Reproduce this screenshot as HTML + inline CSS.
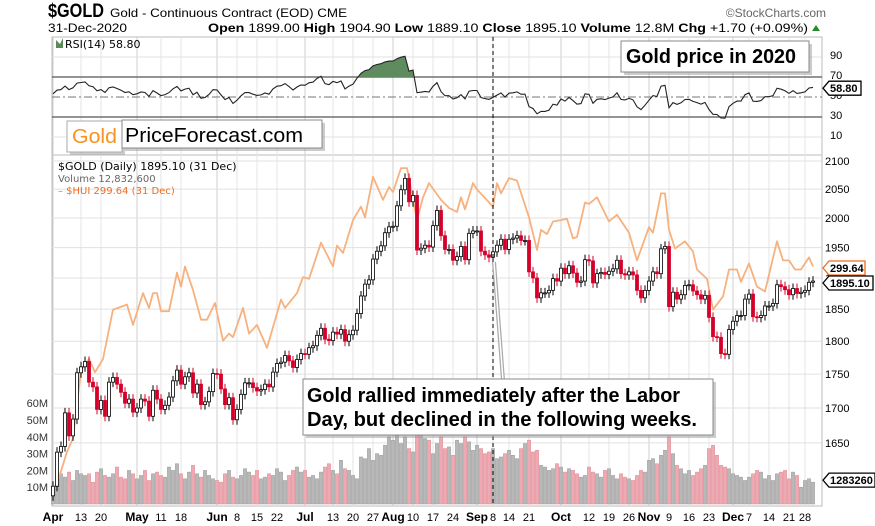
<!DOCTYPE html>
<html><head><meta charset="utf-8">
<style>
html,body{margin:0;padding:0;background:#fff;}
svg{display:block;font-family:"Liberation Sans",Arial,sans-serif;}
</style></head>
<body>
<svg id="chart" width="875" height="526" viewBox="0 0 875 526" xmlns="http://www.w3.org/2000/svg">
  <g id="grid"></g>
  <g id="vol"></g>
  <g id="hui"></g>
  <g id="candles"></g>
  <g id="rsi"></g>
  <g id="axes"></g>

  <!-- header -->
  <text x="48" y="17" font-size="19" font-weight="bold" textLength="56" lengthAdjust="spacingAndGlyphs">$GOLD</text>
  <text x="110" y="17" font-size="12" textLength="237" lengthAdjust="spacingAndGlyphs">Gold - Continuous Contract (EOD) CME</text>
  <text x="826" y="17" font-size="12" fill="#666" text-anchor="end">©StockCharts.com</text>
  <text x="48" y="32" font-size="12" textLength="79" lengthAdjust="spacingAndGlyphs">31-Dec-2020</text>
  <text x="208" y="32" font-size="12" textLength="600" lengthAdjust="spacingAndGlyphs"><tspan font-weight="bold">Open</tspan> 1899.00 <tspan font-weight="bold">High</tspan> 1904.90 <tspan font-weight="bold">Low</tspan> 1889.10 <tspan font-weight="bold">Close</tspan> 1895.10 <tspan font-weight="bold">Volume</tspan> 12.8M <tspan font-weight="bold">Chg</tspan> +1.70 (+0.09%)</text>
  <path d="M812 31 L820 31 L816 25 Z" fill="#2a8a2a"/>

  <!-- RSI legend -->
  <path d="M56 48 L56 40 L60 44 L63 38 L63 48 Z" fill="#5a8a5a"/>
  <text x="65" y="48" font-size="11" font-family="DejaVu Sans, sans-serif">RSI(14) 58.80</text>

  <!-- Gold price box -->
  <rect x="624" y="44" width="188" height="31" fill="#999" opacity="0.5"/>
  <rect x="621" y="41" width="188" height="31" fill="#fff" stroke="#888"/>
  <text x="626" y="63" font-size="20" font-weight="bold" textLength="170" lengthAdjust="spacingAndGlyphs">Gold price in 2020</text>

  <!-- PriceForecast logo -->
  <rect x="70" y="124" width="55" height="31" fill="#999" opacity="0.5"/>
  <rect x="67" y="121" width="55" height="31" fill="#fff" stroke="#aaa"/>
  <text x="72" y="143" font-size="20" fill="#f7931e" textLength="45" lengthAdjust="spacingAndGlyphs">Gold</text>
  <rect x="125" y="123" width="200" height="28" fill="#999" opacity="0.5"/>
  <rect x="122" y="120" width="200" height="28" fill="#fff" stroke="#888"/>
  <text x="125" y="142" font-size="20" textLength="178" lengthAdjust="spacingAndGlyphs">PriceForecast.com</text>

  <!-- price legend -->
  <text x="58" y="170" font-size="11" font-family="DejaVu Sans, sans-serif">$GOLD (Daily) 1895.10 (31 Dec)</text>
  <text x="58" y="182" font-size="10" fill="#666" font-family="DejaVu Sans, sans-serif">Volume 12,832,600</text>
  <text x="58" y="194" font-size="10" fill="#f26b1d" font-family="DejaVu Sans, sans-serif">– $HUI 299.64 (31 Dec)</text>

  <!-- annotation -->
  <g id="annot">
    <line x1="494" y1="262" x2="503" y2="380" stroke="#aaa" stroke-width="4"/>
    <line x1="494" y1="262" x2="503" y2="380" stroke="#fff" stroke-width="1.5"/>
    <rect x="306" y="382" width="410" height="56" fill="#999" opacity="0.5"/>
    <rect x="303" y="379" width="410" height="56" fill="#fff" stroke="#888"/>
    <text x="307" y="402" font-size="20" font-weight="bold" textLength="373" lengthAdjust="spacingAndGlyphs">Gold rallied immediately after the Labor</text>
    <text x="307" y="426" font-size="20" font-weight="bold" textLength="390" lengthAdjust="spacingAndGlyphs">Day, but declined in the following weeks.</text>
  </g>
</svg>
<script>
// ---- data ----
const closes = [
1590,1637,1645,1693,1660,1684,1752,1761,1769,1738,1731,1698,1711,1688,1738,1745,1735,1723,1707,1713,1694,
1700,1713,1710,1688,1726,1713,1698,1704,1716,1740,1756,1735,1746,1752,1722,1735,1705,1709,1724,1751,
1750,1728,1705,1715,1683,1698,1720,1737,1737,1730,1725,1727,1735,1731,1753,1766,1768,1778,1770,1760,1772,1781,
1780,1790,1793,1809,1820,1803,1801,1814,1811,1818,1800,1810,1817,1843,1871,1890,1897,1931,1944,1953,1975,1985,
1986,2021,2049,2069,2028,2039,1946,1949,1954,1951,1987,2013,1970,1947,1947,1929,1935,1952,1930,1974,1978,
1978,1944,1938,1934,1943,1954,1964,1947,1964,1966,1970,1962,1962,1910,1900,1868,1876,1876,1880,1899,1895,
1916,1907,1920,1908,1893,1895,1930,1928,1892,1907,1909,1906,1911,1915,1929,1907,1905,1910,1905,1880,1868,1880,
1895,1910,1907,1948,1952,1854,1877,1866,1873,1888,1889,1879,1873,1866,1872,1837,1807,1806,1781,1780,
1818,1831,1840,1840,1866,1874,1838,1837,1840,1855,1855,1859,1889,1886,1881,1873,1883,1875,1877,1880,1893,1895];
const firstOpen = 1577;
const volumes = [
5,12,18,16,19,14,20,18,17,18,13,19,21,17,16,18,22,16,15,20,18,
15,17,20,14,18,19,17,16,22,20,24,18,15,19,23,18,16,20,17,15,
14,13,18,20,16,15,17,21,19,17,20,15,16,18,17,21,19,14,17,20,22,19,
20,16,17,15,19,22,24,20,18,26,21,20,17,15,28,27,33,26,30,29,35,40,
38,41,36,40,33,31,42,44,39,38,30,36,40,33,34,29,38,36,40,37,32,
35,33,30,31,33,27,28,30,32,29,27,33,36,38,31,32,23,22,20,21,24,
22,19,21,20,18,16,17,22,19,18,16,20,21,17,15,18,16,15,14,17,20,19,
26,27,24,29,32,40,30,23,21,18,20,17,19,21,23,33,35,29,23,22,
21,18,17,16,14,16,18,20,19,15,17,14,18,19,20,15,19,17,10,14,15,13];
const huiDay = [0.75,3.5,5,7,9,10.5,12.5,15,18.5,20,22.5,24,25,26,27,29,31,32,33,35,37,38.5,40.5,42.5,44,45,47.5,49,51,53.5,57,58,61,62.5,64,67,70,71,72.5,75,77,78,80,82.5,84,85,87,88.5,91,92.5,94,97,99,101,102,103,105,106,110,111,112,114,116,119,121,122,123.5,125,127,128.5,130,131,133,134,136,139,141,144,146,149,150,152,153,154,155.5,158,160,161,163.5,165,167.5,169,171,172,174,176,178,181,182.5,184,185.5,187,189,190];
const huiVal = [185,200,206,239,245,238,245,273,276,264,283,274,283,283,272,272,296,287,300,285,267,267,277,255,259,257,274,259,264,251,279,274,283,293,292,316,300,314,309,332,342,334,365,347,357,353,372,372,332,349,360,347,341,338,349,340,360,355,342,360,352,364,362,334,311,325,322,331,332,333,319,320,345,344,349,331,336,323,304,327,323,352,352,325,312,317,310,298,292,273,281,298,298,290,302,287,284,317,304,304,298,298,306,300];
const priceTicks = [2100,2050,2000,1950,1900,1850,1800,1750,1700,1650];
const rsiTicks = [90,70,50,30,10];
const volTicks = [60,50,40,30,20,10];
const volTickLabels = ['60M','50M','40M','30M','20M','10M'];
const dateLabels = ['Apr','13','20','May','11','18','Jun','8','15','22','Jul','13','20','27','Aug','10','17','24','Sep','8','14','21','Oct','12','19','26','Nov','9','16','23','Dec','7','14','21','28'];
const dateIdx = [0,7,12,21,27,32,41,46,51,56,63,70,75,80,85,90,95,100,106,110,114,119,127,134,139,144,149,154,159,164,170,174,179,184,188];
const laborDayIdx = 110;

// ---- scales ----
const NS='http://www.w3.org/2000/svg';
const L=52, R=822, rsiTop=37, rsiBot=155, pTop=155, pBot=506;
const X = i => 53 + i*(760/(closes.length-1));
const YP = p => 161 + 1169*(Math.log(2100)-Math.log(p));
const YH = h => 267 - 457*Math.log(h/299.64);
const YV = v => 504 - v*1.68;
const YR = r => 97 - (r-50);
function mk(tag, attrs, parent){const e=document.createElementNS(NS,tag);for(const k in attrs)e.setAttribute(k,attrs[k]);parent.appendChild(e);return e;}
const g=id=>document.getElementById(id);

// ---- grid ----
const grid=g('grid');
mk('rect',{x:L,y:rsiTop,width:R-L,height:rsiBot-rsiTop,fill:'#fff',stroke:'#bbb'},grid);
mk('rect',{x:L,y:pTop,width:R-L,height:pBot-pTop,fill:'#fff',stroke:'#bbb'},grid);
dateIdx.forEach((d,k)=>{
  const isMonth=isNaN(+dateLabels[k]);
  const l=mk('line',{x1:X(d),x2:X(d),y1:rsiTop,y2:pBot,stroke:isMonth?'#cfcfcf':'#e4e4e4','stroke-width':1},grid);
  
  
});
priceTicks.forEach(p=>{
  const l=mk('line',{x1:L,x2:R,y1:YP(p),y2:YP(p),stroke:'#e0e0e0'},grid);
  
  
});
rsiTicks.forEach(r=>{
  const l=mk('line',{x1:L,x2:R,y1:YR(r),y2:YR(r),stroke:(r===70||r===30)?'#555':'#e0e0e0','stroke-width':(r===70||r===30)?1.3:1},grid);
  if(r===50){l.setAttribute('stroke','#777');l.setAttribute('stroke-dasharray','8,3,2,3');}
  
  
});

// ---- volume ----
const vol=g('vol');
volumes.forEach((v,i)=>{
  const prev=i===0?firstOpen:closes[i-1];
  const down=closes[i]<prev;
  const r=mk('rect',{x:X(i)-1.6,y:YV(v),width:3.2,height:504-YV(v),fill:down?'#eeaab2':'#b8b8b8',stroke:down?'#e08890':'#999','stroke-width':0.5},vol);
  
  
});

// ---- HUI ----
const hui=g('hui');
const hp=huiDay.map((d,k)=>X(d).toFixed(1)+','+YH(huiVal[k]).toFixed(1)).join(' ');
const hl=mk('polyline',{points:hp,fill:'none',stroke:'#f7b17f','stroke-width':1.8,'stroke-linejoin':'round'},hui);



// ---- candles ----
const cg=g('candles');
closes.forEach((c,i)=>{
  const o=i===0?firstOpen:closes[i-1];
  const down=c<o;
  const yt=YP(Math.max(o,c)), yb=YP(Math.min(o,c));
  const col=down?'#d4002a':'#000';
  mk('line',{x1:X(i),x2:X(i),y1:yt-5,y2:yb+5,stroke:col,'stroke-width':1},cg);
  const b=mk('rect',{x:X(i)-1.5,y:yt,width:3,height:Math.max(1,yb-yt),fill:down?'#d4002a':'#fff',stroke:col,'stroke-width':0.8},cg);
  
  
});

// ---- RSI ----
const rg=g('rsi');
let ag=24, al=22; const rsi=[];
closes.forEach((c,i)=>{
  const prev=i===0?firstOpen:closes[i-1];
  const ch=c-prev;
  ag=(ag*13+Math.max(ch,0))/14; al=(al*13+Math.max(-ch,0))/14;
  rsi.push(100-100/(1+ag/al));
});
const cp=mk('clipPath',{id:'above70'},rg);
mk('rect',{x:L,y:rsiTop,width:R-L,height:YR(70)-rsiTop},cp);
const rp=rsi.map((r,i)=>X(i).toFixed(1)+','+YR(r).toFixed(1));
const fill=mk('polygon',{points:X(0)+','+YR(70)+' '+rp.join(' ')+' '+X(rsi.length-1)+','+YR(70),fill:'#5f8c5f','clip-path':'url(#above70)'},rg);


const rl=mk('polyline',{points:rp.join(' '),fill:'none',stroke:'#222','stroke-width':1.1},rg);



// ---- axes / labels ----
const ax=g('axes');
const ld=mk('line',{x1:X(laborDayIdx),x2:X(laborDayIdx),y1:rsiTop,y2:pBot,stroke:'#000','stroke-dasharray':'4,3','stroke-width':1},ax);


priceTicks.forEach(p=>{
  const t=mk('text',{x:825,y:YP(p)+4,'font-size':11},ax);t.textContent=p;
  
  
});
rsiTicks.forEach(r=>{
  const t=mk('text',{x:830,y:YR(r)+2,'font-size':11},ax);t.textContent=r;
  
  
});
volTicks.forEach((v,k)=>{
  const t=mk('text',{x:48,y:YV(v)+4,'font-size':11,'text-anchor':'end',fill:'#333'},ax);t.textContent=volTickLabels[k];
  
  
});
dateIdx.forEach((d,k)=>{
  const isMonth=isNaN(+dateLabels[k]);
  const t=mk('text',{x:X(d),y:521,'font-size':isMonth?12:11,'font-weight':isMonth?'bold':'normal','text-anchor':'middle'},ax);
  t.textContent=dateLabels[k];
  
  
});
function tag(y,txt,col,name,w){
  const grp=mk('g',{},ax);
  
  
  mk('path',{d:`M${823} ${y} L${829} ${y-7} L${823+w} ${y-7} L${823+w} ${y+7} L829 ${y+7} Z`,fill:'#fff',stroke:col,'stroke-width':1.3},grp);
  const t=mk('text',{x:830,y:y+4,'font-size':11,'font-weight':'bold'},grp);t.textContent=txt;
}
tag(YR(58.8),'58.80','#000','rsi-value-tag',38);
tag(268,'299.64','#f26b1d','hui-value-tag',42);
tag(283,'1895.10','#000','gold-value-tag',50);
tag(YV(volumes[volumes.length-1])-2,'1283260','#000','volume-value-tag',52);
</script>
</body></html>
